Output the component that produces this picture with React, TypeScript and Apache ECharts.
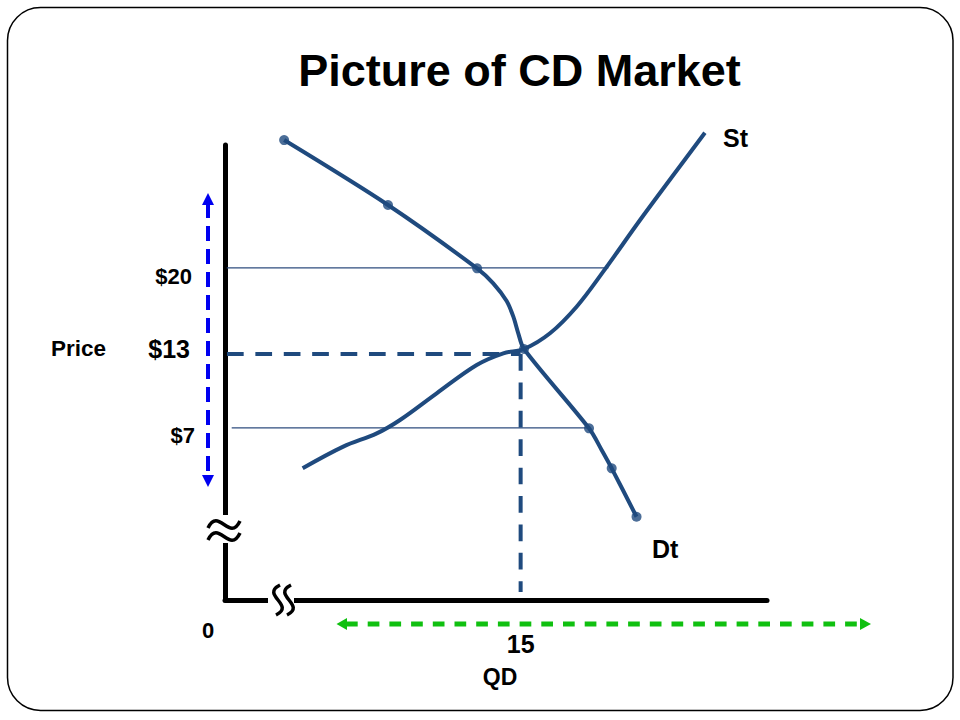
import React, { useEffect, useRef } from 'react';
import * as echarts from 'echarts';

// ---- data (quantity, price) ----
const priceTicks = [7, 13, 20];
const quantityTicks = [15];

const demandQ = [3.0, 8.27, 12.79, 13.61, 14.29, 14.63, 14.88, 15.17, 18.47, 19.11, 19.62, 20.88];
const demandP = [30.4, 25.12, 19.97, 18.75, 17.31, 16.04, 14.69, 13.41, 6.96, 5.2, 3.71, -0.23];

const demandDotQ = [3.0, 8.27, 12.79, 15.17, 18.47, 19.62, 20.88];
const demandDotP = [30.4, 25.12, 19.97, 13.41, 6.96, 3.71, -0.23];

const supplyQ = [3.94, 6.0, 7.7, 8.88, 10.74, 12.77, 14.12, 15.17, 16.49, 17.84, 19.19, 21.06, 22.75, 24.35];
const supplyP = [3.71, 5.47, 6.55, 7.64, 9.81, 12.11, 13.06, 13.41, 14.69, 16.85, 19.7, 23.9, 27.56, 31.0];

const price20Q = [0.09, 19.45];
const price7Q = [0.34, 18.37];
const eqQ = 15;
const eqP = 13;
const eqStartQ = 0.1;
const eqEndP = -6.35;

const FONT = '"Liberation Sans", Arial, Helvetica, sans-serif';

export default function App() {
  const ref = useRef<HTMLDivElement>(null);

  useEffect(() => {
    const chart = echarts.init(ref.current!, undefined, { renderer: 'svg' });
    const zip = (a: number[], b: number[]) => a.map((v, i) => [v, b[i]]);
    const curve = '#1F4A7E';
    const thin = '#2E4D7E';

    const txt = (text: string, x: number, y: number, size: number, align = 'left') => ({
      type: 'text',
      x,
      y,
      z: 100,
      silent: true,
      style: {
        text,
        fill: '#000',
        fontSize: size,
        fontWeight: 'bold',
        fontFamily: FONT,
        align,
        verticalAlign: 'middle',
      },
    });

    const option: any = {
      animation: false,
      backgroundColor: '#ffffff',
      grid: { left: 225, right: 193, top: 145, bottom: 120, containLabel: false, outerBoundsMode: 'none' },
      xAxis: {
        type: 'value',
        min: 0,
        max: 27.5,
        axisLine: { onZero: false, lineStyle: { color: '#000', width: 5 } },
        axisTick: { show: false },
        splitLine: { show: false },
        axisLabel: {
          customValues: quantityTicks,
          formatter: (v: number) => String(v),
          margin: 31,
          fontSize: 25,
          fontWeight: 'bold',
          color: '#000',
          fontFamily: FONT,
        },
      },
      yAxis: {
        type: 'value',
        min: -7,
        max: 30,
        axisLine: { onZero: false, lineStyle: { color: '#000', width: 5 } },
        axisTick: { show: false },
        splitLine: { show: false },
        axisLabel: {
          customValues: priceTicks,
          formatter: (v: number) => `{p${v}|$${v}}`,
          margin: 30,
          color: '#000',
          fontFamily: FONT,
          fontWeight: 'bold',
          rich: {
            p20: { fontSize: 22, fontWeight: 'bold', fontFamily: FONT, color: '#000', padding: [17, 3, 0, 0] },
            p13: { fontSize: 25, fontWeight: 'bold', fontFamily: FONT, color: '#000', padding: [0, 5, 10, 0] },
            p7: { fontSize: 22, fontWeight: 'bold', fontFamily: FONT, color: '#000', padding: [16, 0, 0, 0] },
          },
        },
      },
      series: [
        {
          type: 'line', data: price20Q.map((q) => [q, 20]), showSymbol: false, silent: true, clip: false, z: 1,
          lineStyle: { color: thin, width: 1.3 },
        },
        {
          type: 'line', data: price7Q.map((q) => [q, 7]), showSymbol: false, silent: true, clip: false, z: 1,
          lineStyle: { color: thin, width: 1.3 },
        },
        {
          type: 'line', data: [[eqStartQ, eqP], [eqQ, eqP]], showSymbol: false, silent: true, clip: false, z: 2,
          lineStyle: { color: curve, width: 4, type: [16.7, 11.7] },
        },
        {
          type: 'line', data: [[eqQ, eqP], [eqQ, eqEndP]], showSymbol: false, silent: true, clip: false, z: 2,
          lineStyle: { color: curve, width: 4, type: [16.7, 11.7] },
        },
        {
          type: 'line', data: zip(demandQ, demandP), showSymbol: false, smooth: 0.3, silent: true, clip: false, z: 3,
          lineStyle: { color: curve, width: 4 },
        },
        {
          type: 'line', data: zip(supplyQ, supplyP), showSymbol: false, smooth: 0.35, silent: true, clip: false, z: 3,
          lineStyle: { color: curve, width: 4 },
        },
        {
          type: 'scatter', data: zip(demandDotQ, demandDotP), symbol: 'circle', symbolSize: 10, silent: true, clip: false, z: 4,
          itemStyle: { color: curve },
        },
      ],
      graphic: [
        {
          type: 'rect', z: 0, silent: true,
          shape: { x: 7.5, y: 7.5, width: 945.5, height: 703, r: 33 },
          style: { fill: 'none', stroke: '#000', lineWidth: 1.5 },
        },
        txt('Picture of CD Market', 519.5, 70.5, 45, 'center'),
        txt('Price', 51, 348, 22.5),
        txt('St', 723, 138, 25),
        txt('Dt', 652, 549, 25),
        txt('QD', 500, 676.5, 23, 'center'),
        txt('0', 208, 630, 22, 'center'),
        // axis breaks
        { type: 'rect', z: 99, silent: true, shape: { x: 219, y: 515, width: 12, height: 28 }, style: { fill: '#fff' } },
        { type: 'rect', z: 99, silent: true, shape: { x: 268, y: 596, width: 26, height: 9 }, style: { fill: '#fff' } },
        {
          type: 'bezierCurve', z: 100, silent: true,
          shape: { x1: 208, y1: 528, cpx1: 218.5, cpy1: 506, cpx2: 229.5, cpy2: 543, x2: 240, y2: 521 },
          style: { stroke: '#000', lineWidth: 3.5, fill: 'none' },
        },
        {
          type: 'bezierCurve', z: 100, silent: true,
          shape: { x1: 208, y1: 540, cpx1: 218.5, cpy1: 518, cpx2: 229.5, cpy2: 555, x2: 240, y2: 533 },
          style: { stroke: '#000', lineWidth: 3.5, fill: 'none' },
        },
        {
          type: 'bezierCurve', z: 100, silent: true,
          shape: { x1: 280, y1: 585, cpx1: 260, cpy1: 595, cpx2: 296, cpy2: 605, x2: 276, y2: 615 },
          style: { stroke: '#000', lineWidth: 3.5, fill: 'none' },
        },
        {
          type: 'bezierCurve', z: 100, silent: true,
          shape: { x1: 291, y1: 585, cpx1: 271, cpy1: 595, cpx2: 307, cpy2: 605, x2: 287, y2: 615 },
          style: { stroke: '#000', lineWidth: 3.5, fill: 'none' },
        },
        // blue price arrow
        {
          type: 'line', z: 100, silent: true,
          shape: { x1: 208, y1: 203, x2: 208, y2: 477 },
          style: { stroke: '#0000F0', lineWidth: 4, lineDash: [15, 8] },
        },
        {
          type: 'polygon', z: 100, silent: true,
          shape: { points: [[208, 193], [202, 205], [214, 205]] },
          style: { fill: '#0000F0' },
        },
        {
          type: 'polygon', z: 100, silent: true,
          shape: { points: [[208, 487], [202, 475], [214, 475]] },
          style: { fill: '#0000F0' },
        },
        // green quantity arrow
        {
          type: 'line', z: 100, silent: true,
          shape: { x1: 346, y1: 624, x2: 861, y2: 624 },
          style: { stroke: '#10C010', lineWidth: 5, lineDash: [11.7, 10] },
        },
        {
          type: 'polygon', z: 100, silent: true,
          shape: { points: [[336.5, 624], [347, 618], [347, 630]] },
          style: { fill: '#10C010' },
        },
        {
          type: 'polygon', z: 100, silent: true,
          shape: { points: [[871, 624], [860, 618], [860, 630]] },
          style: { fill: '#10C010' },
        },
      ],
    };

    chart.setOption(option);
    return () => chart.dispose();
  }, []);

  return (
    <div
      ref={ref}
      style={{ position: 'fixed', left: 0, top: 0, width: 960, height: 720, background: '#fff' }}
    />
  );
}
